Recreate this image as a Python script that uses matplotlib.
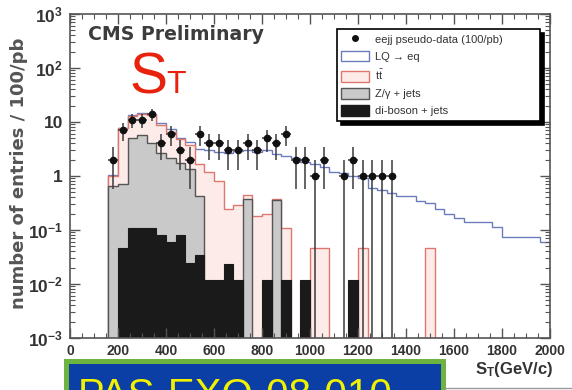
import numpy as np
import matplotlib
matplotlib.use("Agg")
import matplotlib.pyplot as plt
from matplotlib.patches import Rectangle, Patch
from matplotlib.lines import Line2D
from matplotlib.ticker import MultipleLocator, LogLocator, NullFormatter

plt.rcParams['font.family'] = ['Liberation Sans', 'DejaVu Sans']
plt.rcParams['mathtext.fontset'] = 'custom'
plt.rcParams['mathtext.rm'] = 'Liberation Sans'
plt.rcParams['mathtext.it'] = 'Liberation Sans:italic'
plt.rcParams['mathtext.bf'] = 'Liberation Sans:bold'
plt.rcParams['mathtext.default'] = 'regular'

# S_T binning, 40 GeV bins from 160 to 2000
bin_edges = np.arange(160, 2001, 40)

# stacked heights as seen on the plot (entries / 100/pb), one per bin
diboson = [0, 0.047, 0.11, 0.11, 0.11, 0.08, 0.06, 0.08, 0.024, 0.034,
           0.012, 0.012, 0.023, 0.012, 0, 0, 0.012, 0, 0.012, 0,
           0.012, 0, 0, 0, 0, 0.012, 0, 0, 0, 0,
           0, 0, 0, 0, 0, 0, 0, 0, 0, 0,
           0, 0, 0, 0, 0, 0]
zjets = [0.65, 0.7, 5.0, 5.8, 4.0, 2.7, 2.2, 1.75, 1.35, 0.42,
         0, 0, 0, 0, 0.37, 0, 0, 0.36, 0, 0,
         0, 0, 0, 0, 0, 0, 0, 0, 0, 0,
         0, 0, 0, 0, 0, 0, 0, 0, 0, 0,
         0, 0, 0, 0, 0, 0]
ttbar = [1.0, 7.6, 13, 14, 13.5, 8.8, 6.6, 4.9, 3.7, 1.7,
         1.2, 0.82, 0.25, 0.29, 0.45, 0.18, 0.2, 0.37, 0.11, 0,
         0, 0.047, 0.047, 0, 0, 0, 0.047, 0, 0, 0,
         0, 0, 0, 0.047, 0, 0, 0, 0, 0, 0,
         0, 0, 0, 0, 0, 0]
lq = [1.05, 7.8, 13.5, 14.5, 14.0, 9.5, 7.5, 5.0, 4.2, 3.2,
      3.0, 2.8, 2.7, 2.9, 3.0, 2.8, 3.0, 2.6, 2.3, 2.2,
      1.8, 1.7, 1.45, 1.2, 1.15, 1.0, 0.9, 0.6, 0.55, 0.48,
      0.42, 0.42, 0.34, 0.32, 0.25, 0.2, 0.17, 0.14, 0.14, 0.14,
      0.115, 0.075, 0.075, 0.075, 0.075, 0.06]

# pseudo-data counts for bins 160 ... 1360
data_counts = [2, 7, 11, 11, 14, 4, 6, 3, 2, 6,
               4, 4, 3, 3, 4, 3, 5, 4, 6, 2,
               2, 1, 2, 0, 1, 2, 1, 1, 1, 1]

ytick_vals = [1e-3, 1e-2, 1e-1, 1, 10, 1e2, 1e3]
ytick_labels = ['10$^{-3}$', '10$^{-2}$', '10$^{-1}$', '1', '10', '10$^{2}$', '10$^{3}$']
xtick_vals = np.arange(0, 2001, 200)

legend_labels = ['eejj pseudo-data (100/pb)', 'LQ \u2192 eq', r'$t\bar{t}$',
                 'Z/\u03b3 + jets', 'di-boson + jets']

W, H = 572, 390
fig = plt.figure(figsize=(W / 100, H / 100), dpi=100)
ax = fig.add_axes([70 / W, 1 - 338 / H, 480 / W, 324 / H])
ax.set_yscale('log')

base = 1e-5
c_lq = '#6b7bbd'
c_tt_f, c_tt_e = '#fcebe8', '#e0776e'
c_z_f, c_z_e = '#c9c9c9', '#555555'
c_db = '#1a1a1a'

ax.stairs(lq, bin_edges, baseline=base, fill=False, edgecolor=c_lq, linewidth=1.0)
ax.stairs(ttbar, bin_edges, baseline=base, fill=True, facecolor=c_tt_f,
          edgecolor=c_tt_e, linewidth=1.0)
ax.stairs(zjets, bin_edges, baseline=base, fill=True, facecolor=c_z_f,
          edgecolor=c_z_e, linewidth=1.0)
ax.stairs(diboson, bin_edges, baseline=base, fill=True, facecolor=c_db,
          edgecolor=c_db, linewidth=0.8)

counts = np.array(data_counts, dtype=float)
centers = bin_edges[:len(counts)] + np.diff(bin_edges)[0] / 2
m = counts > 0
err = np.sqrt(counts[m])
lo = np.minimum(err, counts[m] * 0.99999)
ax.errorbar(centers[m], counts[m], yerr=[lo, err], xerr=np.diff(bin_edges)[0] / 2,
            fmt='o', ms=4.5, color='#111111', ecolor='#3a3a3a',
            elinewidth=1.1, capsize=0)

ax.set_xlim(0, 2000)
ax.set_ylim(1e-3, 1e3)
ax.set_yticks(ytick_vals)
ax.set_yticklabels(ytick_labels)
ax.yaxis.set_minor_locator(LogLocator(base=10, subs=np.arange(2, 10), numticks=20))
ax.yaxis.set_minor_formatter(NullFormatter())
ax.set_xticks(xtick_vals)
ax.xaxis.set_minor_locator(MultipleLocator(50))

ax.tick_params(which='both', direction='in', top=True, right=True, colors='#555555')
ax.tick_params(which='major', length=7, width=1.0)
ax.tick_params(which='minor', length=3.5, width=0.8)
ax.tick_params(axis='y', labelsize=12.5, pad=5, labelcolor='#333333')
ax.tick_params(axis='x', labelsize=10, pad=4, labelcolor='#333333')
for lab in ax.get_xticklabels() + ax.get_yticklabels():
    lab.set_fontweight('bold')
for sp in ax.spines.values():
    sp.set_color('#555555')
    sp.set_linewidth(1.2)

handles = [Line2D([], [], marker='o', ls='none', color='#111111', ms=4),
           Patch(facecolor='white', edgecolor=c_lq),
           Patch(facecolor=c_tt_f, edgecolor=c_tt_e),
           Patch(facecolor=c_z_f, edgecolor=c_z_e),
           Patch(facecolor=c_db, edgecolor=c_db)]
leg = ax.legend(handles, legend_labels, loc='upper left',
                bbox_to_anchor=(337 / W, 1 - 29 / H, 203 / W, 0),
                bbox_transform=fig.transFigure, mode='expand', borderaxespad=0,
                fontsize=8, frameon=True, fancybox=False, edgecolor='k',
                framealpha=1, handlelength=2.5, handleheight=1.1,
                labelspacing=0.55, borderpad=0.4, handletextpad=0.5,
                shadow={'ox': 3, 'oy': -3, 'facecolor': 'k', 'edgecolor': 'k', 'alpha': 1})
leg.get_frame().set_linewidth(1.2)
for t in leg.get_texts():
    t.set_color('#333333')

# texts
fig.text(88 / W, 1 - 40 / H, 'CMS Preliminary', fontsize=13.6, fontweight='bold',
         color='#3c3c3c', family='DejaVu Sans', va='baseline')
fig.text(129 / W, 1 - 93 / H, 'S', fontsize=41, color='#e8220c', va='baseline')
fig.text(166 / W, 1 - 93 / H, 'T', fontsize=23, color='#e8220c', va='baseline')
fig.text(0.033, 1 - 173 / H, 'number of entries / 100/pb', rotation=90,
         ha='center', va='center', fontsize=13, fontweight='bold',
         color='#555555', family='DejaVu Sans')
fig.text(553 / W, 1 - 374 / H, r'S$_{T}$(GeV/c)', ha='right', va='baseline',
         fontsize=12, fontweight='bold', color='#333333')

# slide box at the bottom (its label runs off the lower edge, as in the original)
fig.patches.append(Rectangle((65.5 / W, -0.1), (443 - 65.5) / W, 0.1 + 1 - 360.5 / H,
                             transform=fig.transFigure, facecolor='#0b3fa6',
                             edgecolor='#6db33f', linewidth=3.6))
fig.text(78 / W, 1 - 407 / H, 'PAS-EXO-08-010', fontsize=29, color='#f2f200',
         va='baseline')
fig.lines.append(Line2D([445 / W, 1], [1 - 388 / H] * 2, transform=fig.transFigure,
                        color='#999999', linewidth=1))

fig.savefig('out.png', dpi=100)
